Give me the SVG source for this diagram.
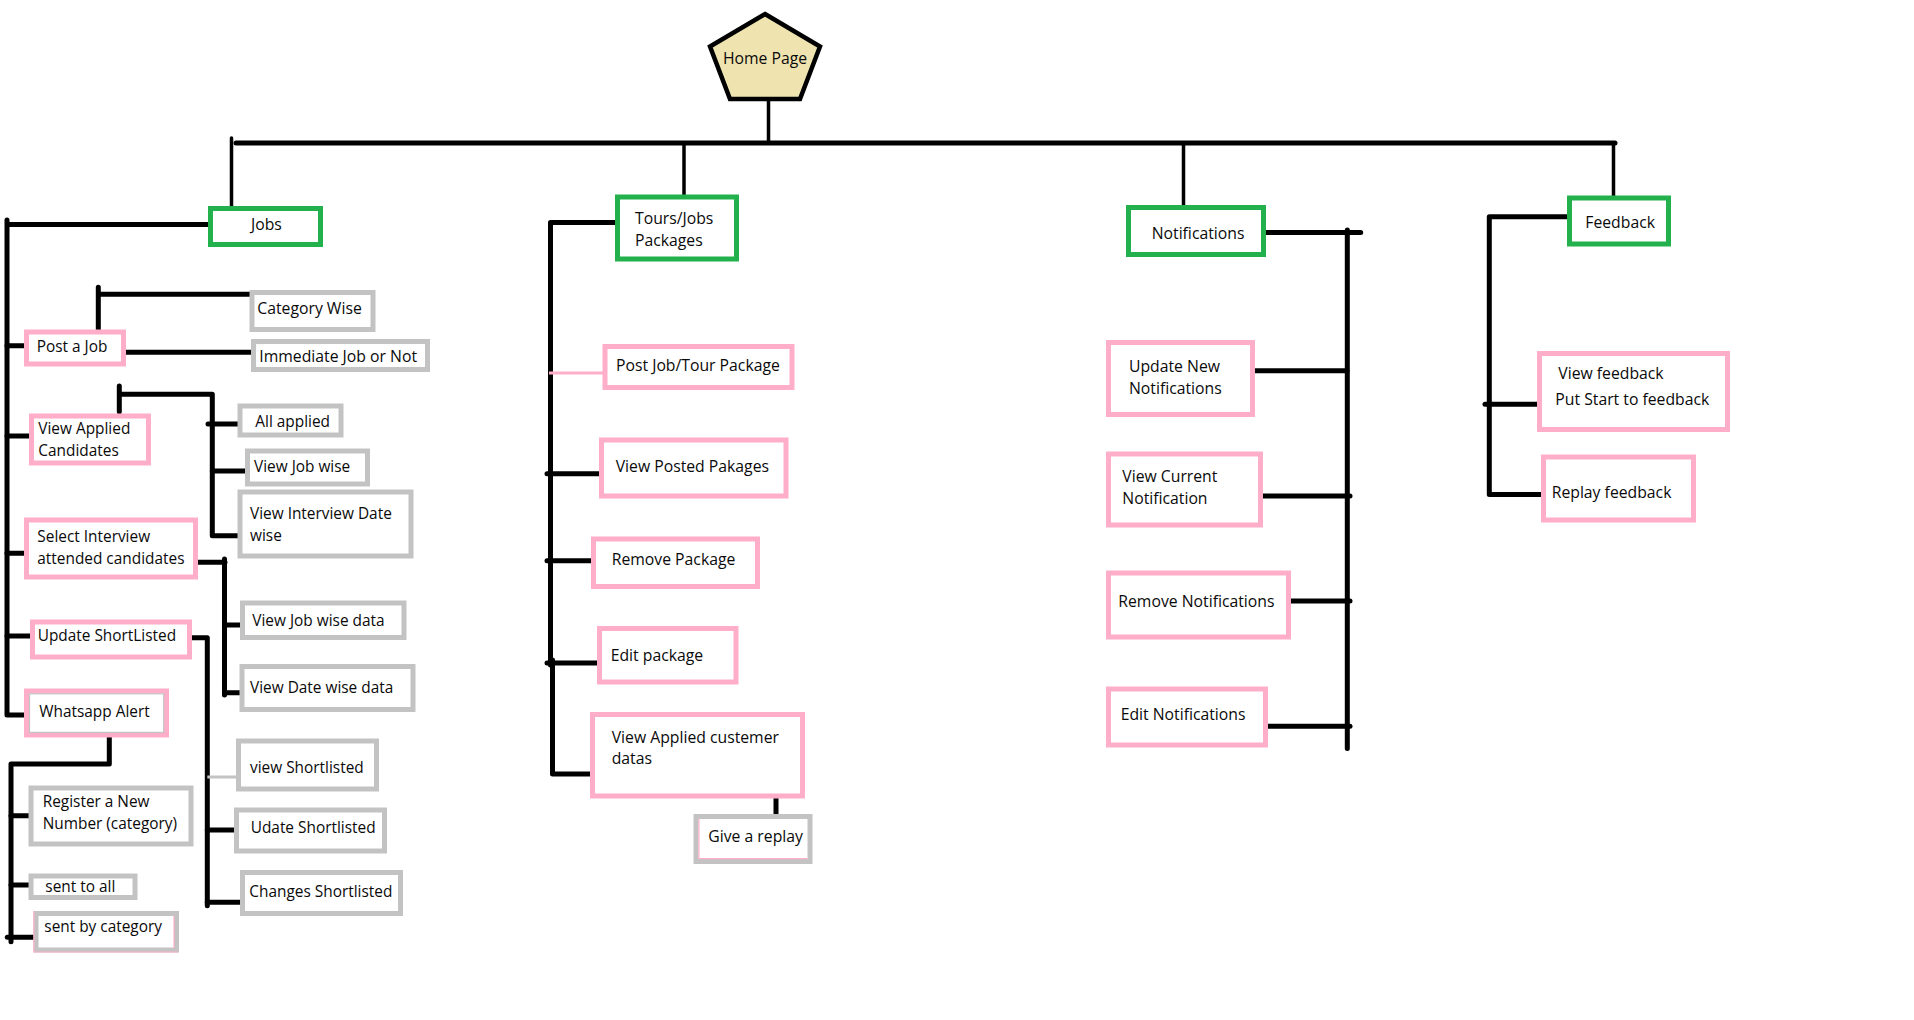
<svg xmlns="http://www.w3.org/2000/svg" width="1914" height="1020" viewBox="0 0 1914 1020">
  <style>
    .bg { fill: #ffffff; }
    .box { fill: #ffffff; stroke-width: 5; }
    .pk { stroke: #FFAEC9; }
    .gy { stroke: #C3C3C3; }
    .gn { stroke: #22B14C; }
    .edge-pk { fill: none; stroke: #FFAEC9; stroke-width: 1.2; }
    .edge-gy { fill: none; stroke: #C3C3C3; stroke-width: 1.2; }
    .home { fill: #EFE4B0; stroke: #000000; stroke-width: 4.5; stroke-linejoin: miter; }
    text { font-family: "Open Sans", "Noto Sans", "Liberation Sans", sans-serif; font-size: 15.75px; fill: #0a0a0a; }
    .narrow { font-size: 15.4px; }
    .ln { fill: none; stroke: #000000; stroke-width: 5; stroke-linecap: round; stroke-linejoin: round; }
    .thin { stroke-width: 3.5; }
    .lpk { fill: none; stroke: #FFAEC9; stroke-width: 3; }
    .lgy { fill: none; stroke: #C3C3C3; stroke-width: 3; }
  </style>

  <rect class="bg" x="0" y="0" width="1914" height="1020"/>

  <!-- connectors -->
  <g id="connectors">
    <!-- root trunk and top-level branches -->
    <path class="ln thin" d="M768.5,100 V143"/>
    <path class="ln" d="M236,143 H1615"/>
    <path class="ln thin" d="M231.5,138 V207"/>
    <path class="ln thin" d="M684,143 V195"/>
    <path class="ln thin" d="M1183.5,143 V206"/>
    <path class="ln thin" d="M1613.5,143 V196"/>

    <!-- Jobs -->
    <path class="ln" d="M208,224.5 H7 M7,220 V715 H26"/>
    <path class="ln" d="M7,345.7 H31.7"/>
    <path class="ln" d="M7,436 H36.7"/>
    <path class="ln" d="M7,553.3 H33.3"/>
    <path class="ln" d="M7,636 H33"/>
    <path class="ln" d="M98.3,331 V287.3 M98.3,294.3 H251.7"/>
    <path class="ln" d="M123.3,352.3 H253.3"/>
    <path class="ln" d="M119.3,411.7 V386 M119.3,394.3 H212.3 V535.7 H241.7"/>
    <path class="ln" d="M208,424 H243.3"/>
    <path class="ln" d="M212.3,471 H248.3"/>
    <path class="ln" d="M193.3,562.3 H225 M224.5,559 V695"/>
    <path class="ln" d="M224.5,625 H245"/>
    <path class="ln" d="M224.5,692.7 H243.3"/>
    <path class="ln" d="M188.3,637.7 H207.3 V905.7"/>
    <path class="lgy" d="M207.3,777 H236.7"/>
    <path class="ln" d="M207.3,830 H240"/>
    <path class="ln" d="M207.3,902.3 H243.3"/>
    <path class="ln" d="M109.3,734.3 V764 H11 V941.7"/>
    <path class="ln" d="M11,815.7 H32.7"/>
    <path class="ln" d="M11,885 H31"/>
    <path class="ln" d="M7.3,937.3 H35.7"/>

    <!-- Tours/Jobs Packages -->
    <path class="ln" d="M619,222.4 H550.5 V665 M552.5,660 V774 H594"/>
    <path class="lpk" d="M549,373 H609.3"/>
    <path class="ln" d="M547,473.8 H606"/>
    <path class="ln" d="M547,560.8 H596"/>
    <path class="ln" d="M547,663 H605"/>
    <path class="ln" d="M776,796 V818"/>

    <!-- Notifications -->
    <path class="ln" d="M1260.7,232.6 H1360.7 M1347.3,230 V748.5"/>
    <path class="ln" d="M1249.3,370.7 H1347"/>
    <path class="ln" d="M1260,496 H1350"/>
    <path class="ln" d="M1289.3,601 H1350"/>
    <path class="ln" d="M1262.7,726.3 H1350"/>

    <!-- Feedback -->
    <path class="ln" d="M1569.3,216.8 H1489.3 V494.6 H1544"/>
    <path class="ln" d="M1485,404.3 H1540.7"/>
  </g>

  <!-- root -->
  <g id="home-page">
    <polygon class="home" points="765,14 820,46.5 800,99 730,99 710,46.5"/>
    <text x="765" y="63.5" text-anchor="middle" font-size="15">Home Page</text>
  </g>

  <!-- top-level sections -->
  <g id="jobs">
    <rect class="box gn" x="210.5" y="208.5" width="110" height="36"/>
    <text x="251" y="230">Jobs</text>
  </g>
  <g id="tours-jobs-packages">
    <rect class="box gn" x="617.5" y="197" width="119" height="62"/>
    <text x="635" y="224">Tours/Jobs</text>
    <text x="635" y="245.5">Packages</text>
  </g>
  <g id="notifications">
    <rect class="box gn" x="1128.5" y="207.5" width="135" height="47"/>
    <text x="1151.7" y="238.5">Notifications</text>
  </g>
  <g id="feedback">
    <rect class="box gn" x="1569.5" y="198" width="99" height="46"/>
    <text x="1585.3" y="228">Feedback</text>
  </g>

  <!-- Jobs children -->
  <g id="post-a-job">
    <rect class="box pk" x="26.5" y="332" width="97" height="32"/>
    <text class="narrow" x="36.7" y="352">Post a Job</text>
  </g>
  <g id="category-wise">
    <rect class="box gy" x="252" y="292.5" width="121" height="37"/>
    <text x="257.3" y="314.3">Category Wise</text>
  </g>
  <g id="immediate-job">
    <rect class="box gy" x="253.5" y="341.5" width="174" height="28"/>
    <text x="259.3" y="362.3">Immediate Job or Not</text>
  </g>
  <g id="view-applied-candidates">
    <rect class="box pk" x="31.5" y="416" width="117" height="47"/>
    <text class="narrow" x="38.3" y="433.5">View Applied</text>
    <text class="narrow" x="38.3" y="455.5">Candidates</text>
  </g>
  <g id="all-applied">
    <rect class="box gy" x="240" y="406" width="101" height="29"/>
    <text class="narrow" x="255.3" y="426.7">All applied</text>
  </g>
  <g id="view-job-wise">
    <rect class="box gy" x="247.5" y="451" width="120" height="33"/>
    <text class="narrow" x="254" y="472.3">View Job wise</text>
  </g>
  <g id="view-interview-date-wise">
    <rect class="box gy" x="240" y="492" width="171" height="64"/>
    <text class="narrow" x="250" y="519">View Interview Date</text>
    <text class="narrow" x="250" y="541">wise</text>
  </g>
  <g id="select-interview">
    <rect class="box pk" x="26.5" y="520" width="169" height="57"/>
    <text class="narrow" x="37.3" y="541.7">Select Interview</text>
    <text class="narrow" x="37.3" y="564">attended candidates</text>
  </g>
  <g id="view-job-wise-data">
    <rect class="box gy" x="242.5" y="603" width="161.5" height="34.5"/>
    <text class="narrow" x="252.3" y="626">View Job wise data</text>
  </g>
  <g id="view-date-wise-data">
    <rect class="box gy" x="242" y="666.5" width="171" height="43"/>
    <text class="narrow" x="250" y="693.3">View Date wise data</text>
  </g>
  <g id="update-shortlisted">
    <rect class="box pk" x="32.5" y="622" width="157" height="35"/>
    <text class="narrow" x="37.7" y="641">Update ShortListed</text>
  </g>
  <g id="view-shortlisted">
    <rect class="box gy" x="238.5" y="741" width="138" height="48"/>
    <text class="narrow" x="250" y="772.7">view Shortlisted</text>
  </g>
  <g id="udate-shortlisted">
    <rect class="box gy" x="236.5" y="810" width="148" height="41"/>
    <text class="narrow" x="250.7" y="832.7">Udate Shortlisted</text>
  </g>
  <g id="changes-shortlisted">
    <rect class="box gy" x="242.5" y="872.5" width="158" height="41"/>
    <text class="narrow" x="249.3" y="896.7">Changes Shortlisted</text>
  </g>
  <g id="whatsapp-alert">
    <rect class="box pk" x="26.5" y="691" width="140" height="44"/>
    <rect class="edge-gy" x="29.5" y="693.8" width="134.2" height="38.6"/>
    <text class="narrow" x="39.3" y="716.7">Whatsapp Alert</text>
  </g>
  <g id="register-number">
    <rect class="box gy" x="31" y="788" width="160" height="56"/>
    <text class="narrow" x="42.7" y="806.7">Register a New</text>
    <text class="narrow" x="42.7" y="829">Number (category)</text>
  </g>
  <g id="sent-to-all">
    <rect class="box gy" x="31" y="876" width="104" height="21.5"/>
    <text class="narrow" x="45.3" y="892.3">sent to all</text>
  </g>
  <g id="sent-by-category">
    <rect class="box gy" x="36" y="913.5" width="140.5" height="36.5"/>
    <path class="edge-pk" d="M33.9,911 V952 H178.5 M174,915.5 V948.5"/>
    <text class="narrow" x="44.3" y="932.3">sent by category</text>
  </g>

  <!-- Tours/Jobs Packages children -->
  <g id="post-job-tour-package">
    <rect class="box pk" x="605" y="346.5" width="187" height="41"/>
    <text x="616" y="371">Post Job/Tour Package</text>
  </g>
  <g id="view-posted-packages">
    <rect class="box pk" x="601.5" y="440" width="184.5" height="56"/>
    <text x="615.7" y="472.4">View Posted Pakages</text>
  </g>
  <g id="remove-package">
    <rect class="box pk" x="593.5" y="539" width="164" height="47.5"/>
    <text x="611.7" y="564.8">Remove Package</text>
  </g>
  <g id="edit-package">
    <rect class="box pk" x="599.5" y="628.5" width="136.5" height="53.5"/>
    <text x="610.7" y="660.8">Edit package</text>
  </g>
  <g id="view-applied-customer-datas">
    <rect class="box pk" x="592.5" y="714.5" width="210" height="81.5"/>
    <text x="611.7" y="742.5">View Applied custemer</text>
    <text x="611.7" y="764">datas</text>
  </g>
  <g id="give-a-replay">
    <rect class="box gy" x="696" y="816.5" width="114" height="45"/>
    <path class="edge-pk" d="M698.9,819 V858.6 H807.5"/>
    <text x="708.3" y="842">Give a replay</text>
  </g>

  <!-- Notifications children -->
  <g id="update-new-notifications">
    <rect class="box pk" x="1108.5" y="342.5" width="144" height="72"/>
    <text x="1129" y="371.9">Update New</text>
    <text x="1129" y="394">Notifications</text>
  </g>
  <g id="view-current-notification">
    <rect class="box pk" x="1108.5" y="454" width="152" height="71"/>
    <text x="1122.3" y="481.5">View Current</text>
    <text x="1122.3" y="503.5">Notification</text>
  </g>
  <g id="remove-notifications">
    <rect class="box pk" x="1108.5" y="573" width="180" height="64"/>
    <text x="1118.3" y="607">Remove Notifications</text>
  </g>
  <g id="edit-notifications">
    <rect class="box pk" x="1108.5" y="689" width="157" height="56"/>
    <text x="1120.7" y="720">Edit Notifications</text>
  </g>

  <!-- Feedback children -->
  <g id="view-feedback">
    <rect class="box pk" x="1539.5" y="353.5" width="188" height="76"/>
    <text x="1558.3" y="378.6">View feedback</text>
    <text x="1555.3" y="404.6">Put Start to feedback</text>
  </g>
  <g id="replay-feedback">
    <rect class="box pk" x="1543.5" y="457" width="150" height="63"/>
    <text x="1551.7" y="497.5">Replay feedback</text>
  </g>
</svg>
